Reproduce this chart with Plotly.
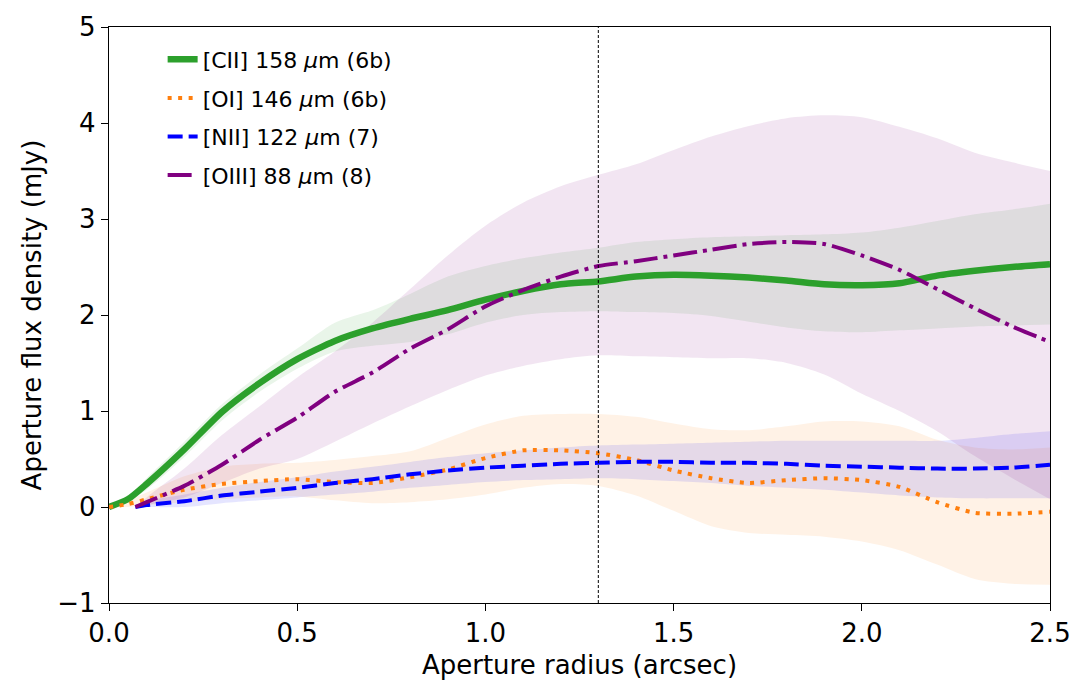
import plotly.graph_objects as go

# ---- data ----
r_a = [0.0, 0.05, 0.1, 0.2, 0.3, 0.4, 0.5, 0.6, 0.7, 0.8, 0.9, 1.0, 1.1, 1.2, 1.3,
       1.4, 1.5, 1.6, 1.7, 1.8, 1.9, 2.0, 2.1, 2.2, 2.3, 2.4, 2.5]
cii = [0, 0.08, 0.24, 0.60, 0.99, 1.29, 1.54, 1.73, 1.86, 1.96, 2.05, 2.16, 2.25, 2.32, 2.35,
       2.40, 2.42, 2.41, 2.39, 2.36, 2.32, 2.31, 2.33, 2.41, 2.46, 2.50, 2.53]
cii_hi = [0, 0.10, 0.30, 0.68, 1.07, 1.38, 1.65, 1.92, 2.05, 2.22, 2.40, 2.51, 2.59, 2.65, 2.70,
          2.76, 2.79, 2.81, 2.82, 2.83, 2.84, 2.86, 2.91, 2.98, 3.05, 3.10, 3.16]
cii_lo = [0, 0.06, 0.18, 0.52, 0.90, 1.20, 1.44, 1.62, 1.68, 1.72, 1.80, 1.92, 2.00, 2.03, 2.04,
          2.03, 2.02, 1.99, 1.93, 1.87, 1.83, 1.82, 1.84, 1.86, 1.88, 1.89, 1.90]

oi = [0, 0.03, 0.08, 0.18, 0.24, 0.27, 0.29, 0.26, 0.25, 0.31, 0.39, 0.51, 0.59, 0.59, 0.56,
      0.49, 0.38, 0.30, 0.25, 0.28, 0.30, 0.28, 0.21, 0.05, -0.06, -0.07, -0.05]
oi_hi = [0, 0.07, 0.15, 0.32, 0.42, 0.45, 0.46, 0.49, 0.53, 0.58, 0.72, 0.86, 0.95, 0.97, 0.97,
         0.94, 0.87, 0.81, 0.80, 0.84, 0.89, 0.89, 0.84, 0.70, 0.62, 0.60, 0.62]
oi_lo = [0, 0.0, 0.02, 0.05, 0.08, 0.10, 0.11, 0.07, 0.04, 0.05, 0.08, 0.13, 0.20, 0.24, 0.22,
         0.12, -0.04, -0.20, -0.27, -0.29, -0.31, -0.36, -0.45, -0.60, -0.75, -0.80, -0.81]

r_b = [0.07, 0.1, 0.2, 0.3, 0.4, 0.5, 0.6, 0.7, 0.8, 0.9, 1.0, 1.1, 1.2, 1.3,
       1.4, 1.5, 1.6, 1.7, 1.8, 1.9, 2.0, 2.1, 2.2, 2.3, 2.4, 2.5]
nii = [0, 0.02, 0.06, 0.12, 0.16, 0.20, 0.25, 0.29, 0.34, 0.38, 0.41, 0.43, 0.45, 0.46,
       0.47, 0.47, 0.46, 0.46, 0.45, 0.43, 0.42, 0.41, 0.40, 0.40, 0.41, 0.44]
nii_hi = [0, 0.06, 0.13, 0.20, 0.26, 0.31, 0.37, 0.42, 0.47, 0.52, 0.56, 0.59, 0.62, 0.64,
          0.65, 0.66, 0.67, 0.68, 0.69, 0.69, 0.69, 0.69, 0.69, 0.72, 0.76, 0.79]
nii_lo = [0, 0.0, 0.0, 0.04, 0.07, 0.10, 0.13, 0.16, 0.20, 0.23, 0.26, 0.28, 0.29, 0.30,
          0.29, 0.27, 0.25, 0.22, 0.20, 0.18, 0.15, 0.12, 0.10, 0.09, 0.09, 0.09]

oiii = [0, 0.05, 0.22, 0.44, 0.70, 0.93, 1.20, 1.40, 1.65, 1.85, 2.09, 2.26, 2.40, 2.51,
        2.56, 2.62, 2.68, 2.74, 2.76, 2.74, 2.62, 2.47, 2.27, 2.07, 1.88, 1.72]
oiii_hi = [0, 0.10, 0.40, 0.75, 1.05, 1.35, 1.62, 1.92, 2.27, 2.62, 2.93, 3.17, 3.34, 3.46,
           3.57, 3.72, 3.86, 3.97, 4.05, 4.08, 4.06, 3.96, 3.84, 3.69, 3.59, 3.50]
oiii_lo = [0, 0.02, 0.10, 0.25, 0.40, 0.50, 0.68, 0.87, 1.05, 1.22, 1.37, 1.47, 1.54, 1.58,
           1.57, 1.56, 1.55, 1.55, 1.50, 1.38, 1.18, 1.00, 0.79, 0.53, 0.30, 0.08]

r_eff = 1.3
x_ticks = [0.0, 0.5, 1.0, 1.5, 2.0, 2.5]
y_ticks = [-1, 0, 1, 2, 3, 4, 5]

series = [
    dict(name="[CII] 158 <i>μ</i>m (6b)", x=r_a, y=cii, hi=cii_hi, lo=cii_lo,
         color="#2ca02c", fill="rgba(44,160,44,0.1)", width=6.5, dash="solid"),
    dict(name="[OI] 146 <i>μ</i>m (6b)", x=r_a, y=oi, hi=oi_hi, lo=oi_lo,
         color="#ff7f0e", fill="rgba(255,127,14,0.1)", width=4, dash="4px,6.5px"),
    dict(name="[NII] 122 <i>μ</i>m (7)", x=r_b, y=nii, hi=nii_hi, lo=nii_lo,
         color="#0000ff", fill="rgba(0,0,255,0.1)", width=4, dash="15px,6px"),
    dict(name="[OIII] 88 <i>μ</i>m (8)", x=r_b, y=oiii, hi=oiii_hi, lo=oiii_lo,
         color="#800080", fill="rgba(128,0,128,0.1)", width=4, dash="24px,6px,4px,6px"),
]

fig = go.Figure()
for s in series:
    fig.add_trace(go.Scatter(
        x=s["x"], y=s["lo"], mode="lines",
        line=dict(width=0, shape="spline", smoothing=0.8),
        showlegend=False, hoverinfo="skip"))
    fig.add_trace(go.Scatter(
        x=s["x"], y=s["hi"], mode="lines", fill="tonexty", fillcolor=s["fill"],
        line=dict(width=0, shape="spline", smoothing=0.8),
        showlegend=False, hoverinfo="skip"))
for i, s in enumerate(series):
    fig.add_trace(go.Scatter(
        x=s["x"], y=s["y"], mode="lines", name=s["name"], legendgroup=f"g{i}",
        line=dict(color=s["color"], width=s["width"], dash=s["dash"],
                  shape="spline", smoothing=0.6)))

fig.add_vline(x=r_eff, line=dict(color="black", width=1, dash="3px,2px"))

font = "DejaVu Sans"
axis_common = dict(showline=True, linecolor="black", linewidth=1.3, mirror=True,
                   ticks="outside", ticklen=7, tickwidth=1.3, tickcolor="black",
                   showgrid=False, zeroline=False,
                   tickfont=dict(family=font, size=26, color="black"))
fig.update_xaxes(range=[0, 2.5], tickvals=x_ticks, tickformat=".1f",
                 title=dict(text="Aperture radius (arcsec)", standoff=8,
                            font=dict(family=font, size=26, color="black")),
                 **axis_common)
fig.update_yaxes(range=[-1, 5], tickvals=y_ticks,
                 title=dict(text="Aperture flux density (mJy)", standoff=8,
                            font=dict(family=font, size=26, color="black")),
                 **axis_common)

fig.update_layout(
    width=1089, height=698,
    margin=dict(l=109, r=39, t=27, b=95, autoexpand=False),
    plot_bgcolor="white", paper_bgcolor="white",
    legend=dict(x=0.057, y=0.98, xanchor="left", yanchor="top",
                bgcolor="rgba(0,0,0,0)", borderwidth=0, tracegroupgap=7,
                font=dict(family=font, size=22, color="black")),
)

fig.write_html("out.html")
